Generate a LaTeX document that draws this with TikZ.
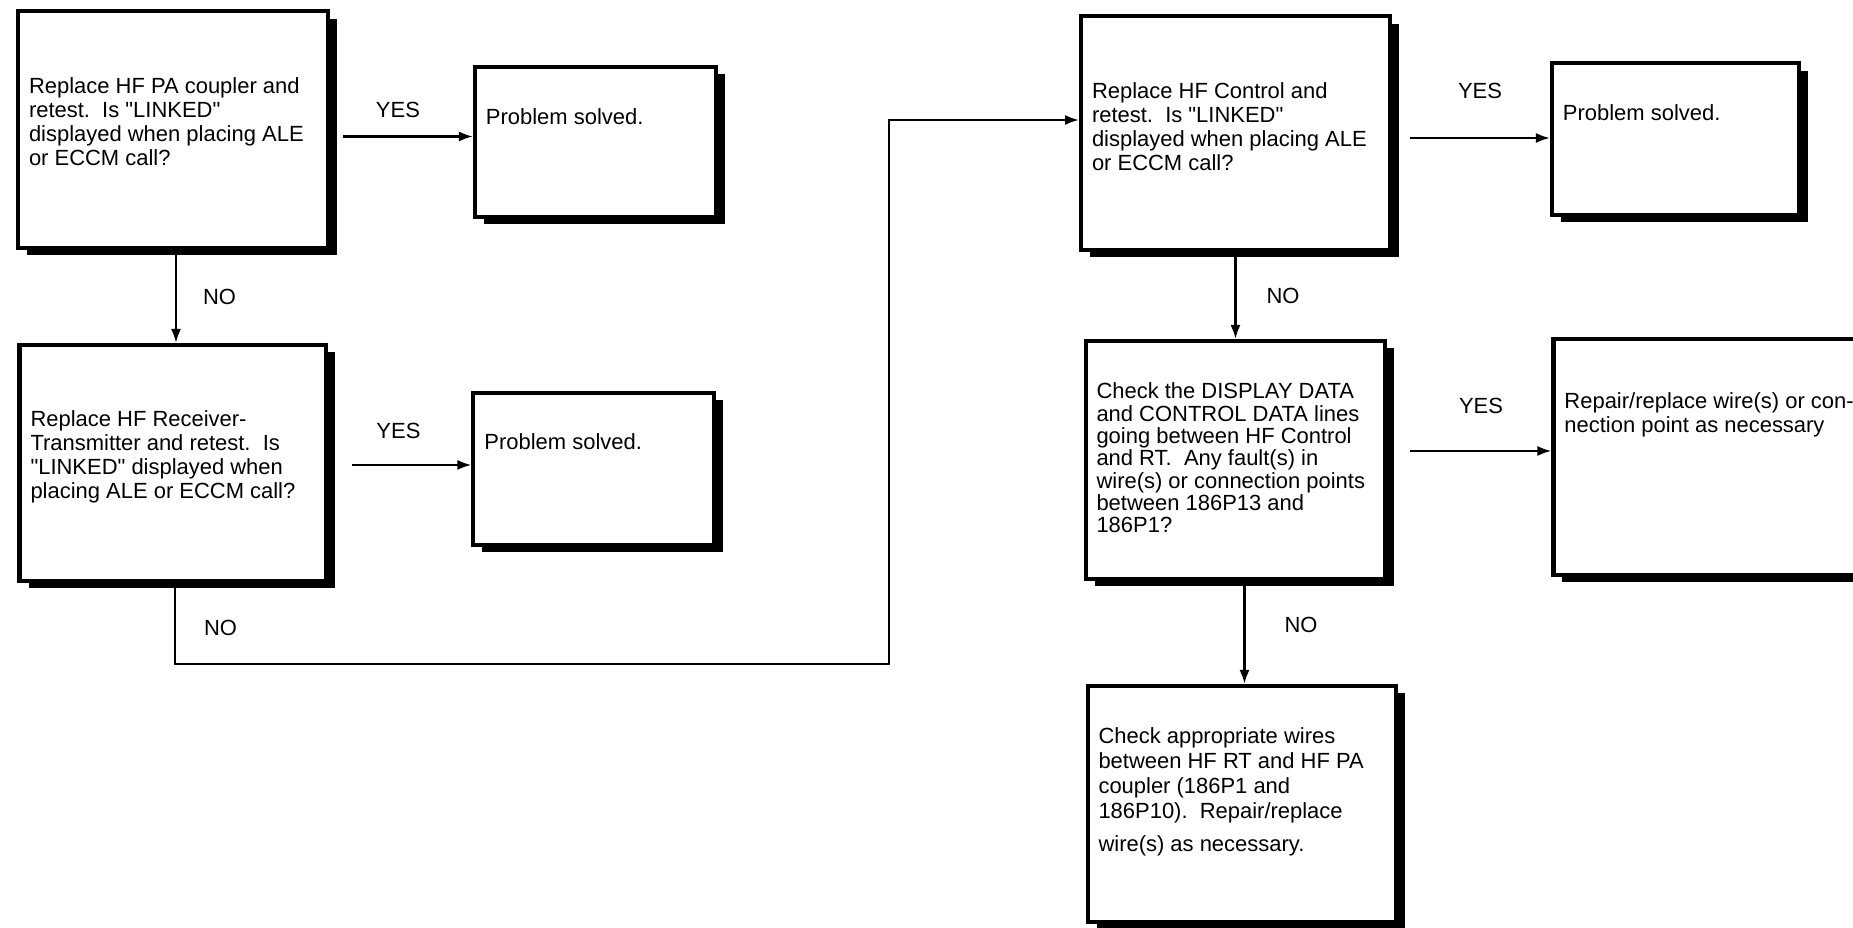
\documentclass[tikz,border=0pt]{standalone}
\usepackage{fontspec}
\setmainfont{Liberation Sans}
\usetikzlibrary{positioning, calc, shadows, arrows.meta}

% text block inside a box: width, height, first baseline, lines
\newcommand{\boxtext}[4]{\hspace*{0.22cm}\parbox[c][#2][t]{#1}{\rule{0pt}{#3}#4}}
\newcommand{\q}{\textquotedbl}

\begin{document}
\begin{tikzpicture}[x=0.02cm, y=-0.02cm,
    font=\fontsize{12.5pt}{13.6pt}\selectfont,
    box/.style={draw, line width=2.3pt, fill=white, inner sep=0pt,
        drop shadow={shadow xshift=0.18cm, shadow yshift=-0.15cm, fill=black, opacity=1}},
    lbl/.style={inner sep=0pt},
    arr/.style={-{Latex[length=0.28cm, width=0.2cm]}, line width=1.3pt}]

    \useasboundingbox (0,0) rectangle (1853,928);
    \clip (0,0) rectangle (1853,928);

    % Left column
    \node[box, anchor=north west] (pa) at (16,9) {\boxtext{5.98cm}{4.74cm}{1.66cm}{Replace HF PA coupler and\\ retest.\ \ Is \q LINKED\q\\ displayed when placing ALE\\ or ECCM call?}};
    \node[box, right=2.86cm of pa, yshift=-0.25cm] (ok1) {\boxtext{4.6cm}{3.0cm}{1.16cm}{Problem solved.}};
    \node[box, below=1.86cm of pa] (rt) {\boxtext{5.92cm}{4.72cm}{1.64cm}{Replace HF Receiver-\\ Transmitter and retest.\ \ Is\\ \q LINKED\q\ displayed when\\ placing ALE or ECCM call?}};
    \node[box, right=2.86cm of rt, yshift=-0.12cm] (ok2) {\boxtext{4.6cm}{3.04cm}{1.14cm}{Problem solved.}};

    % Right column
    \node[box, anchor=north west] (ctl) at (1079,14) {\boxtext{5.96cm}{4.68cm}{1.66cm}{Replace HF Control and\\ retest.\ \ Is \q LINKED\q\\ displayed when placing ALE\\ or ECCM call?}};
    \node[box, right=3.16cm of ctl, yshift=-0.12cm] (ok3) {\boxtext{4.72cm}{3.04cm}{1.16cm}{Problem solved.}};
    \node[box, below=1.74cm of ctl, font=\fontsize{12.5pt}{12.7pt}\selectfont] (wire) {\boxtext{5.78cm}{4.76cm}{1.16cm}{Check the DISPLAY DATA\\ and CONTROL DATA lines\\ going between HF Control\\ and RT.\ \ Any fault(s) in\\ wire(s) or connection points\\ between 186P13 and\\ 186P1?}};
    \node[box, right=3.28cm of wire, yshift=0.06cm] (fix) {\boxtext{6.18cm}{4.72cm}{1.4cm}{Repair/replace wire(s) or con-\\ nection point as necessary}};
    \node[box, below=2.06cm of wire, xshift=0.13cm, font=\fontsize{12.5pt}{14.2pt}\selectfont] (rewire) {\boxtext{5.96cm}{4.72cm}{1.16cm}{Check appropriate wires\\ between HF RT and HF PA\\ coupler (186P1 and\\ 186P10).\ \ Repair/replace\\[4.5pt] wire(s) as necessary.}};

    % Connectors
    \draw[arr] (pa.east) ++(13,7) coordinate (pa1) -- (pa1 -| ok1.west) node[lbl, midway, above=0.36cm, xshift=-0.2cm] {YES};
    \draw[arr] (pa.south) ++(3,0) coordinate (pa2) -- (pa2 |- rt.north) node[lbl, midway, right=0.52cm] {NO};
    \draw[arr] (rt.east) ++(24,2) coordinate (rt1) -- (rt1 -| ok2.west) node[lbl, midway, above=0.5cm, xshift=-0.27cm] {YES};
    \coordinate (turn) at (889,664);
    \draw[arr] (rt.south) ++(2,0) |- node[lbl, pos=0.25, right=0.56cm, yshift=-0.09cm] {NO} (turn) |- ([yshift=0.26cm]ctl.west);
    \draw[arr] (ctl.east) ++(18,5) coordinate (ctl1) -- (ctl1 -| ok3.west) node[lbl, midway, above=0.76cm] {YES};
    \draw[arr] (ctl.south) -- (ctl.south |- wire.north) node[lbl, midway, right=0.6cm] {NO};
    \draw[arr] (wire.east) ++(23,-9) coordinate (wire1) -- (wire1 -| fix.west) node[lbl, midway, above=0.72cm] {YES};
    \draw[arr] (wire.south) ++(9,0) coordinate (wire2) -- (wire2 |- rewire.north) node[lbl, midway, right=0.78cm, yshift=0.16cm] {NO};
\end{tikzpicture}
\end{document}
